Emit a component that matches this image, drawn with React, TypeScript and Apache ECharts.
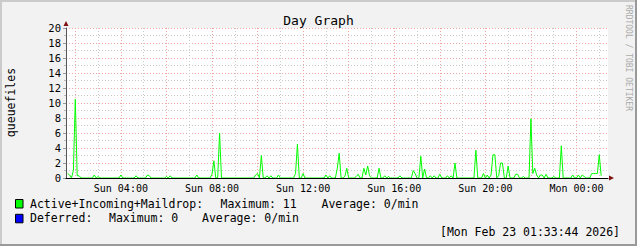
import React, { useEffect, useRef } from "react";
import * as echarts from "echarts";

// Time in minutes since Sun 00:00, sampled every 5 minutes (rrd step)
const stepMinutes = 5;
const firstSample = 100; // Sun 01:40
const lastSample = 1505; // Mon 01:05
const readingMinutes = [
  100, 105, 115, 120, 125, 130, 170, 180, 240, 280, 310, 315, 360, 370, 440, 480, 485, 500,
  595, 600, 610, 625, 635, 655, 700, 705, 720, 780, 790, 810, 815, 830, 835, 860, 865, 880,
  885, 890, 895, 920, 935, 945, 975, 1010, 1015, 1030, 1040, 1055, 1065, 1080, 1100, 1110,
  1120, 1175, 1195, 1205, 1215, 1220, 1225, 1235, 1240, 1245, 1260, 1280, 1285, 1300, 1320,
  1325, 1330, 1335, 1345, 1350, 1360, 1380, 1400, 1430, 1445, 1455, 1460, 1480, 1485, 1490,
  1495, 1500, 1505,
];
const readingValues = [
  0.6, 0.4, 1.0, 10.5, 0.3, 0.3, 0.4, 0.2, 0.4, 0.3, 0.4, 0.3, 0.2, 0.3, 0.4, 0.5, 2.3, 6.0,
  0.4, 0.6, 3.0, 0.3, 0.3, 0.4, 0.6, 4.5, 0.6, 0.4, 0.3, 1.3, 3.3, 0.2, 1.3, 0.2, 0.5, 1.3,
  0.4, 1.6, 0.3, 1.3, 0.3, 0.2, 0.3, 1.0, 0.6, 2.9, 1.2, 0.3, 0.3, 0.5, 0.3, 0.3,
  2.0, 3.7, 0.6, 0.4, 0.4, 3.1, 3.1, 0.3, 2.0, 2.0, 1.6, 0.5, 0.5, 0.2, 7.9,
  0.6, 1.3, 0.4, 0.4, 0.4, 0.5, 0.2, 4.3, 0.4, 0.4, 0.4, 0.2, 0.6, 0.6, 0.6,
  0.6, 3.1, 0.3,
];

const axisMin = 95.5;
const axisMax = 1523;
const majorGridMinutes = [120, 240, 360, 480, 600, 720, 840, 960, 1080, 1200, 1320, 1440];
const minorGridMinutes = [180, 300, 420, 540, 660, 780, 900, 1020, 1140, 1260, 1380, 1500];
const labelMinutes = [240, 480, 720, 960, 1200, 1440];

const title = "Day Graph";
const yTitle = "queuefiles";
const watermark = "RRDTOOL / TOBI OETIKER";
const legendRows = [
  { name: "Active+Incoming+Maildrop:", max: "Maximum: 11", avg: "Average: 0/min", color: "#00FF00" },
  { name: "Deferred:", max: "Maximum: 0", avg: "Average: 0/min", color: "#0000FF" },
];
const timestamp = "[Mon Feb 23 01:33:44 2026]";

const MONO = "DejaVu Sans Mono";

function buildSeries(): [number, number][] {
  const map = new Map<number, number>();
  readingMinutes.forEach((m, i) => map.set(m, readingValues[i]));
  const out: [number, number][] = [];
  for (let m = firstSample; m <= lastSample; m += stepMinutes) {
    out.push([m, map.has(m) ? (map.get(m) as number) : 0]);
  }
  return out;
}

function fmtTime(v: number): string {
  const day = v >= 1440 ? "Mon" : "Sun";
  const mins = Math.round(v) % 1440;
  const hh = String(Math.floor(mins / 60)).padStart(2, "0");
  const mm = String(mins % 60).padStart(2, "0");
  return `${day} ${hh}:${mm}`;
}

export default function App() {
  const ref = useRef<HTMLDivElement>(null);
  useEffect(() => {
    if (!ref.current) return;
    const chart = echarts.init(ref.current, undefined, { renderer: "svg" });
    const majorColor = "#F2A4A4";
    const minorColor = "#CBCBCB";
    const dots = [1, 2];
    const legendGraphics: any[] = [];
    const rowY = [203.5, 218.3];
    const maxX = [220.5, 109];
    const avgX = [321.5, 202];
    legendRows.forEach((r, i) => {
      legendGraphics.push({
        type: "rect",
        shape: { x: 15.5, y: rowY[i] - 4, width: 7.5, height: 8.5 },
        style: { fill: r.color, stroke: "#000", lineWidth: 1 },
      });
      [[r.name, 30], [r.max, maxX[i]], [r.avg, avgX[i]]].forEach(([t, x]) => {
        legendGraphics.push({
          type: "text",
          x: x as number,
          y: rowY[i],
          style: { text: t as string, font: `11.5px '${MONO}'`, fill: "#000", align: "left", verticalAlign: "middle" },
        });
      });
    });

    const baseX = { type: "value", min: axisMin, max: axisMax, position: "bottom", offset: 0 };

    chart.setOption({
      animation: false,
      backgroundColor: "#F2F2F2",
      grid: { left: 66, right: 29, top: 28, bottom: 68, backgroundColor: "#FFFFFF", show: true, borderWidth: 0, outerBoundsMode: "none", containLabel: false },
      xAxis: [
        {
          ...baseX,
          axisLine: { show: false },
          axisTick: { show: false, customValues: majorGridMinutes },
          axisLabel: { show: false },
          splitLine: { show: true, lineStyle: { color: majorColor, type: dots, width: 1 } },
        },
        {
          ...baseX,
          axisLine: { show: false },
          axisTick: { show: false, customValues: minorGridMinutes },
          axisLabel: { show: false },
          splitLine: { show: true, lineStyle: { color: minorColor, type: dots, width: 1 } },
        },
        {
          ...baseX,
          z: 10,
          axisLine: { show: true, onZero: false, lineStyle: { color: "#000", width: 1 } },
          axisTick: { show: false, customValues: labelMinutes },
          axisLabel: {
            show: true,
            customValues: labelMinutes,
            formatter: (v: number) => fmtTime(v),
            fontFamily: MONO,
            fontSize: 10,
            color: "#000",
            margin: 5,
            hideOverlap: false,
          },
          splitLine: { show: false },
        },
      ],
      yAxis: [
        {
          type: "value",
          min: 0,
          max: 20,
          interval: 2,
          position: "left",
          axisLine: { show: true, lineStyle: { color: "#555", width: 1 } },
          axisTick: { show: true, length: 3, lineStyle: { color: "#999" } },
          minorTick: { show: true, splitNumber: 2, length: 2, lineStyle: { color: "#bbb" } },
          axisLabel: { fontFamily: MONO, fontSize: 10.5, color: "#000", margin: 5 },
          splitLine: { show: true, lineStyle: { color: majorColor, type: dots, width: 1 } },
          minorSplitLine: { show: true, lineStyle: { color: minorColor, type: dots, width: 1 } },
        },
      ],
      series: [
        {
          type: "line",
          name: legendRows[0].name,
          xAxisIndex: 0,
          yAxisIndex: 0,
          data: buildSeries(),
          showSymbol: false,
          symbol: "none",
          lineStyle: { color: "#00FF00", width: 1 },
          z: 5,
        },
      ],
      graphic: [
        { type: "rect", shape: { x: 0, y: 0, width: 637, height: 2 }, style: { fill: "#CBCBCB" } },
        { type: "rect", shape: { x: 0, y: 0, width: 2, height: 246 }, style: { fill: "#CBCBCB" } },
        { type: "rect", shape: { x: 0, y: 244, width: 637, height: 2 }, style: { fill: "#999999" } },
        { type: "rect", shape: { x: 635, y: 0, width: 2, height: 246 }, style: { fill: "#999999" } },
        {
          type: "text",
          x: 318.5,
          y: 20.5,
          style: { text: title, font: `13px '${MONO}'`, fill: "#000", align: "center", verticalAlign: "middle" },
        },
        {
          type: "text",
          x: 11,
          y: 102.5,
          rotation: Math.PI / 2,
          style: { text: yTitle, font: `11.5px '${MONO}'`, fill: "#000", align: "center", verticalAlign: "middle" },
        },
        {
          type: "text",
          x: 628.5,
          y: 5,
          rotation: -Math.PI / 2,
          style: { text: watermark, font: `8px '${MONO}'`, fill: "#AAAAAA", align: "left", verticalAlign: "middle" },
        },
        {
          type: "polygon",
          z: 20,
          shape: { points: [[63.5, 26], [68.5, 26], [66, 21]] },
          style: { fill: "#7F1010" },
        },
        {
          type: "polygon",
          z: 20,
          shape: { points: [[609, 175.5], [609, 180.5], [614, 178]] },
          style: { fill: "#7F1010" },
        },
        ...legendGraphics,
        {
          type: "text",
          x: 620,
          y: 231.7,
          style: { text: timestamp, font: `11.5px '${MONO}'`, fill: "#000", align: "right", verticalAlign: "middle" },
        },
      ],
    });
    return () => chart.dispose();
  }, []);
  return <div ref={ref} style={{ position: "fixed", left: 0, top: 0, width: 637, height: 246 }} />;
}
